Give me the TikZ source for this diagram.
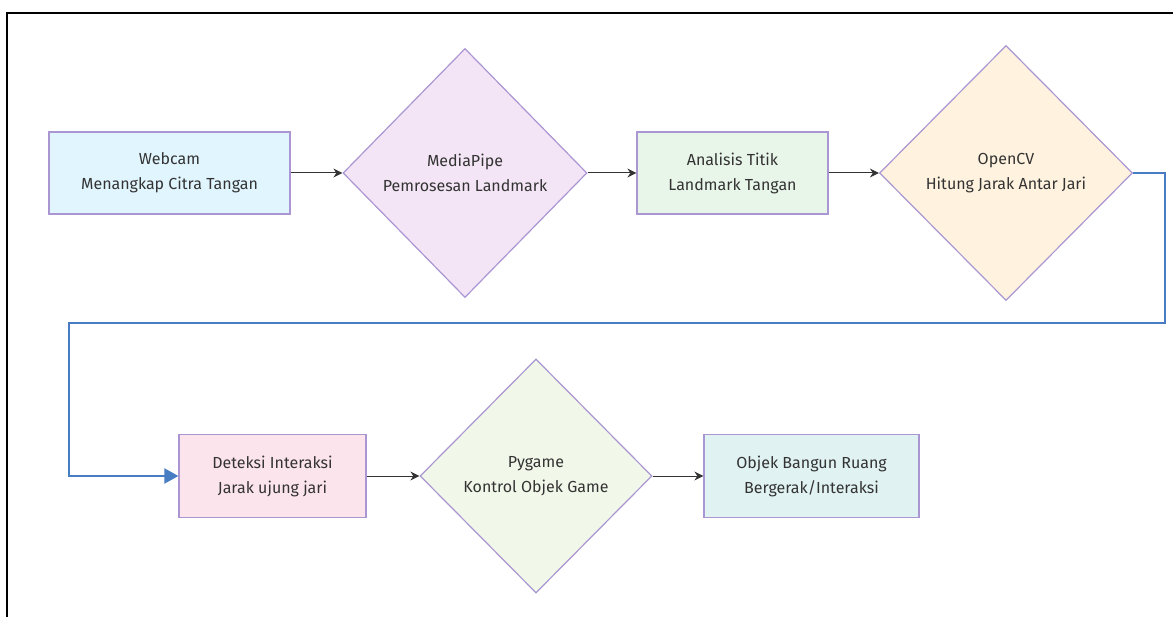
\documentclass[tikz,border=0pt]{standalone}
\usepackage{fontspec}
\setmainfont{Fira Sans}
\usepackage{tikz}
\definecolor{nodeline}{RGB}{170,150,210}
\definecolor{ink}{RGB}{51,51,51}
\definecolor{loopblue}{RGB}{70,125,195}
\definecolor{webfill}{RGB}{225,245,254}
\definecolor{mpfill}{RGB}{243,229,245}
\definecolor{anfill}{RGB}{232,245,233}
\definecolor{cvfill}{RGB}{255,243,224}
\definecolor{detfill}{RGB}{252,228,236}
\definecolor{pgfill}{RGB}{241,248,233}
\definecolor{objfill}{RGB}{224,242,241}
\usetikzlibrary{positioning,shapes.geometric,arrows.meta}

\begin{document}
\begin{tikzpicture}[x=1pt,y=-1pt,
    every node/.style={font=\fontsize{16}{25}\selectfont, text=ink, align=center},
    procbox/.style={draw=nodeline, line width=1.2pt, rectangle, inner sep=0pt},
    decide/.style={draw=nodeline, line width=1.2pt, diamond, inner sep=0pt, aspect=1},
    flow/.style={draw=ink, line width=1pt, -{Stealth[length=9pt,width=9pt]}}]
    \useasboundingbox (0,0) rectangle (1173,617);
    % frame of the screenshot
    \draw[line width=2pt, black] (7,617) -- (7,13) -- (1173,13);

    % top row
    \node[procbox, fill=webfill, minimum width=241pt, minimum height=82pt] (cam) at (169.5,173) {Webcam\\Menangkap Citra Tangan};
    \node[decide, fill=mpfill, minimum width=244pt, minimum height=249pt] (mp) at (465,173) {MediaPipe\\Pemrosesan Landmark};
    \node[procbox, fill=anfill, minimum width=191pt, minimum height=82pt] (ana) at (732.5,173) {Analisis Titik\\Landmark Tangan};
    \node[decide, fill=cvfill, minimum width=253pt, minimum height=255pt] (cv) at (1006,173) {OpenCV\\Hitung Jarak Antar Jari};

    % bottom row
    \node[procbox, fill=detfill, minimum width=187pt, minimum height=83pt] (det) at (272.5,476) {Deteksi Interaksi\\Jarak ujung jari};
    \node[decide, fill=pgfill, minimum width=232pt, minimum height=234pt] (pg) at (536,476) {Pygame\\Kontrol Objek Game};
    \node[procbox, fill=objfill, minimum width=215pt, minimum height=83pt] (obj) at (811.5,476) {Objek Bangun Ruang\\Bergerak/Interaksi};

    % connectors
    \draw[flow] (cam) -- (mp);
    \draw[flow] (mp) -- (ana);
    \draw[flow] (ana) -- (cv);
    \draw[flow] (det) -- (pg);
    \draw[flow] (pg) -- (obj);

    % wrap-around to second row
    \coordinate (turnR) at (1165,323);
    \coordinate (turnL) at (69,323);
    \draw[loopblue, line width=2pt, -{Triangle[length=14pt,width=15pt]}] (cv.east) -| (turnR) -- (turnL) |- (det.west);
\end{tikzpicture}
\end{document}
